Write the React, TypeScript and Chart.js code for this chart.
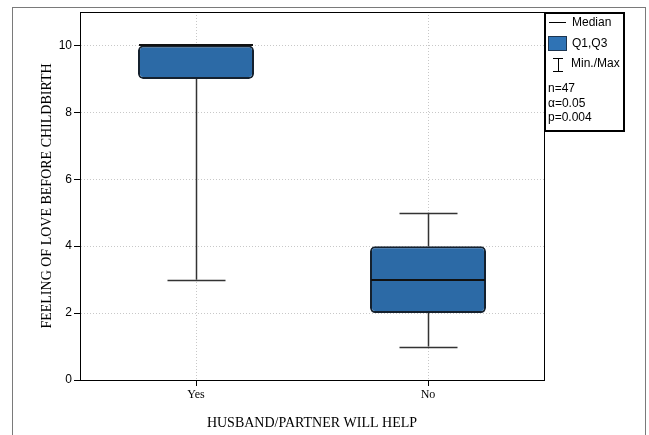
import React, { useEffect, useRef } from "react";
import { Chart, registerables } from "chart.js";

Chart.register(...registerables);

const categories = ["Yes", "No"];
const minValues = [3, 1];
const q1Values = [9, 2];
const medianValues = [10, 3];
const q3Values = [10, 4];
const maxValues = [10, 5];
const yTicks = [0, 2, 4, 6, 8, 10];
const legendStats = ["n=47", "α=0.05", "p=0.004"];

const boxPlotPlugin = {
  id: "boxPlotExtras",
  beforeDraw(chart: any) {
    const { ctx } = chart;
    ctx.save();
    ctx.fillStyle = "#ffffff";
    ctx.fillRect(0, 0, chart.width, chart.height);
    ctx.strokeStyle = "#7a7a7a";
    ctx.lineWidth = 1;
    ctx.strokeRect(12.5, 7.5, 633, 440);
    ctx.restore();
  },
  beforeDatasetsDraw(chart: any) {
    const { ctx, scales } = chart;
    const xs = scales.x;
    const ys = scales.y;
    const meta = chart.getDatasetMeta(0);
    ctx.save();
    ctx.strokeStyle = "#333333";
    ctx.lineWidth = 1.5;
    categories.forEach((_, i) => {
      const x = Math.round(xs.getPixelForValue(i)) + 0.5;
      const w = meta.data[i] ? meta.data[i].width : 100;
      const half = w / 4;
      const yMin = ys.getPixelForValue(minValues[i]);
      const yMax = ys.getPixelForValue(maxValues[i]);
      const yQ1 = ys.getPixelForValue(q1Values[i]);
      const yQ3 = ys.getPixelForValue(q3Values[i]);
      ctx.beginPath();
      ctx.moveTo(x, yQ1);
      ctx.lineTo(x, yMin);
      ctx.moveTo(x, yQ3);
      ctx.lineTo(x, yMax);
      ctx.stroke();
      ctx.beginPath();
      if (minValues[i] < q1Values[i]) {
        ctx.moveTo(x - half, Math.round(yMin) + 0.5);
        ctx.lineTo(x + half, Math.round(yMin) + 0.5);
      }
      if (maxValues[i] > q3Values[i]) {
        ctx.moveTo(x - half, Math.round(yMax) + 0.5);
        ctx.lineTo(x + half, Math.round(yMax) + 0.5);
      }
      ctx.stroke();
    });
    ctx.restore();
  },
  afterDatasetsDraw(chart: any) {
    const { ctx, scales } = chart;
    const xs = scales.x;
    const ys = scales.y;
    const meta = chart.getDatasetMeta(0);
    ctx.save();
    ctx.strokeStyle = "#111111";
    ctx.lineWidth = 2;
    categories.forEach((_, i) => {
      const x = xs.getPixelForValue(i);
      const w = meta.data[i] ? meta.data[i].width : 100;
      const y = Math.round(ys.getPixelForValue(medianValues[i]));
      ctx.beginPath();
      ctx.moveTo(x - w / 2 + 1, y);
      ctx.lineTo(x + w / 2 - 1, y);
      ctx.stroke();
    });
    ctx.restore();
  },
  afterDraw(chart: any) {
    const { ctx, chartArea } = chart;
    ctx.save();
    ctx.strokeStyle = "#000000";
    ctx.lineWidth = 1;
    ctx.setLineDash([]);
    ctx.strokeRect(chartArea.left + 0.5, chartArea.top + 0.5, chartArea.right - chartArea.left, chartArea.bottom - chartArea.top);
    const lx = chartArea.right;
    const ly = chartArea.top;
    const lw = 79;
    const lh = 118;
    ctx.lineWidth = 2;
    ctx.strokeRect(lx + 1, ly + 1, lw, lh);
    ctx.lineWidth = 1;
    ctx.strokeStyle = "#000";
    ctx.beginPath();
    ctx.moveTo(lx + 5, ly + 10.5);
    ctx.lineTo(lx + 22, ly + 10.5);
    ctx.stroke();
    ctx.fillStyle = "#2f73b5";
    ctx.fillRect(lx + 5, ly + 25, 17, 13);
    ctx.strokeStyle = "#1d3550";
    ctx.strokeRect(lx + 4.5, ly + 24.5, 18, 14);
    ctx.strokeStyle = "#000";
    ctx.beginPath();
    ctx.moveTo(lx + 9, ly + 46.5);
    ctx.lineTo(lx + 19, ly + 46.5);
    ctx.moveTo(lx + 14.5, ly + 46.5);
    ctx.lineTo(lx + 14.5, ly + 59.5);
    ctx.moveTo(lx + 9, ly + 59.5);
    ctx.lineTo(lx + 19, ly + 59.5);
    ctx.stroke();
    ctx.fillStyle = "#000";
    ctx.textBaseline = "middle";
    ctx.textAlign = "left";
    ctx.font = "12px 'Liberation Sans', Arial, sans-serif";
    ctx.fillText("Median", lx + 28, ly + 11);
    ctx.fillText("Q1,Q3", lx + 28, ly + 32);
    ctx.fillText("Min./Max", lx + 27, ly + 52);
    ctx.font = "12px 'Liberation Sans Narrow', 'Liberation Sans', sans-serif";
    legendStats.forEach((s, k) => {
      ctx.fillText(s, lx + 4, ly + 77 + k * 14.5);
    });
    ctx.restore();
  },
};

export default function App() {
  const canvasRef = useRef<HTMLCanvasElement | null>(null);
  useEffect(() => {
    if (!canvasRef.current) return;
    const chart = new Chart(canvasRef.current, {
      type: "bar",
      data: {
        labels: categories,
        datasets: [
          {
            label: "Q1,Q3",
            data: categories.map((_, i) => [q1Values[i], q3Values[i]]) as any,
            backgroundColor: "#2c6aa6",
            borderColor: "#15212e",
            borderWidth: 2,
            borderRadius: 5,
            borderSkipped: false,
            barPercentage: 0.5,
            categoryPercentage: 1,
          },
        ],
      },
      options: {
        animation: false,
        responsive: false,
        maintainAspectRatio: false,
        layout: { padding: { left: 39, top: 12, right: 105, bottom: 0 } },
        plugins: { legend: { display: false }, tooltip: { enabled: false } },
        scales: {
          x: {
            offset: true,
            afterFit: (s: any) => {
              s.height = 55;
            },
            grid: {
              offset: false,
              color: "#c8c8c8",
              tickColor: "#000",
              tickLength: 6,
              drawTicks: true,
            },
            border: { display: true, color: "#000", width: 1, dash: [1, 2] } as any,
            ticks: {
              color: "#000",
              padding: 2,
              font: { family: "'Liberation Serif', 'Times New Roman', serif", size: 12 },
            },
            title: {
              display: true,
              text: "HUSBAND/PARTNER WILL HELP",
              color: "#000",
              font: { family: "'Liberation Serif', 'Times New Roman', serif", size: 14 },
              padding: { top: 0, bottom: 3 },
            },
          },
          y: {
            min: 0,
            max: 11,
            afterFit: (s: any) => {
              s.width = 41;
            },
            afterBuildTicks: (s: any) => {
              s.ticks = yTicks.map((v) => ({ value: v }));
            },
            grid: {
              color: "#c8c8c8",
              tickColor: "#000",
              tickLength: 6,
            },
            border: { display: true, color: "#000", width: 1, dash: [1, 2] } as any,
            ticks: {
              color: "#000",
              padding: 2,
              font: { family: "'Liberation Sans', Arial, sans-serif", size: 12 },
            },
            title: {
              display: true,
              text: "FEELING OF LOVE BEFORE CHILDBIRTH",
              color: "#000",
              font: { family: "'Liberation Serif', 'Times New Roman', serif", size: 14 },
              padding: { top: 0, bottom: 0 },
            },
          },
        },
      },
      plugins: [boxPlotPlugin],
    });
    return () => chart.destroy();
  }, []);
  return (
    <div style={{ position: "fixed", left: 0, top: 0, width: 649, height: 435, background: "#fff" }}>
      <canvas ref={canvasRef} width={649} height={435} style={{ width: 649, height: 435, display: "block" }} />
    </div>
  );
}
